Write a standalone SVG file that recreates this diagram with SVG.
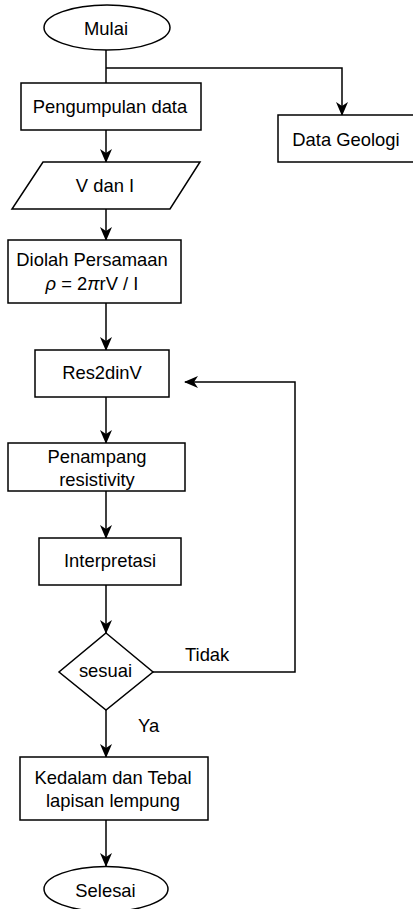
<svg xmlns="http://www.w3.org/2000/svg" width="413" height="909" viewBox="0 0 413 909">
<style>
.s{fill:#fff;stroke:#000;stroke-width:1.5}
.c{fill:none;stroke:#000;stroke-width:1.5}
text{font-family:"Liberation Sans",Arial,sans-serif;font-size:18.4px;fill:#000}
.m{text-anchor:middle}
</style>
<defs>
<marker id="ah" markerUnits="userSpaceOnUse" markerWidth="14" markerHeight="12" viewBox="0 0 14 12" refX="13" refY="6" orient="auto">
<path d="M0,0 L14,6 L0,12 L4,6 Z" fill="#000"/>
</marker>
</defs>
<rect width="413" height="909" fill="#fff"/>
<g id="connectors">
<path class="c" d="M106,50 V83"/>
<path class="c" d="M106,68 H342 V115" marker-end="url(#ah)"/>
<path class="c" d="M106,130 V162" marker-end="url(#ah)"/>
<path class="c" d="M106,209 V240" marker-end="url(#ah)"/>
<path class="c" d="M106,303 V350" marker-end="url(#ah)"/>
<path class="c" d="M106,397 V443" marker-end="url(#ah)"/>
<path class="c" d="M106,491 V538" marker-end="url(#ah)"/>
<path class="c" d="M106,585 V633" marker-end="url(#ah)"/>
<path class="c" d="M106,710 V757" marker-end="url(#ah)"/>
<path class="c" d="M106,820 V866" marker-end="url(#ah)"/>
<path class="c" d="M153,672 H295 V382 H185" marker-end="url(#ah)"/>
<text x="185" y="661">Tidak</text>
<text x="138" y="732">Ya</text>
</g>
<g id="mulai">
<ellipse class="s" cx="107" cy="27.5" rx="63" ry="22.5"/>
<text class="m" x="106" y="35">Mulai</text>
</g>
<g id="pengumpulan">
<rect class="s" x="21" y="83" width="180" height="47"/>
<text class="m" x="110" y="113">Pengumpulan data</text>
</g>
<g id="geologi">
<rect class="s" x="278" y="115" width="145" height="47"/>
<text class="m" x="346" y="146">Data Geologi</text>
</g>
<g id="vdani">
<path class="s" d="M43,162 H200 L170,209 H12 Z"/>
<text class="m" x="105" y="192">V dan I</text>
</g>
<g id="diolah">
<rect class="s" x="8" y="240" width="173" height="63"/>
<text class="m" x="92" y="266">Diolah Persamaan</text>
<text class="m" x="92" y="290"><tspan font-style="italic">ρ</tspan> = 2<tspan font-style="italic">π</tspan>rV / I</text>
</g>
<g id="res2dinv">
<rect class="s" x="35" y="350" width="134" height="47"/>
<text class="m" x="102" y="379">Res2dinV</text>
</g>
<g id="penampang">
<rect class="s" x="8" y="443" width="177" height="48"/>
<text class="m" x="97" y="463">Penampang</text>
<text class="m" x="97" y="486">resistivity</text>
</g>
<g id="interpretasi">
<rect class="s" x="39" y="538" width="142" height="47"/>
<text class="m" x="110" y="567">Interpretasi</text>
</g>
<g id="sesuai">
<path class="s" d="M106,633 L153,672 L106,710 L59,672 Z"/>
<text class="m" x="105.5" y="677">sesuai</text>
</g>
<g id="kedalam">
<rect class="s" x="20" y="757" width="188" height="63"/>
<text class="m" x="113" y="784">Kedalam dan Tebal</text>
<text class="m" x="113" y="807">lapisan lempung</text>
</g>
<g id="selesai">
<ellipse class="s" cx="106" cy="889" rx="62" ry="22.5"/>
<text class="m" x="105.5" y="897">Selesai</text>
</g>
</svg>
